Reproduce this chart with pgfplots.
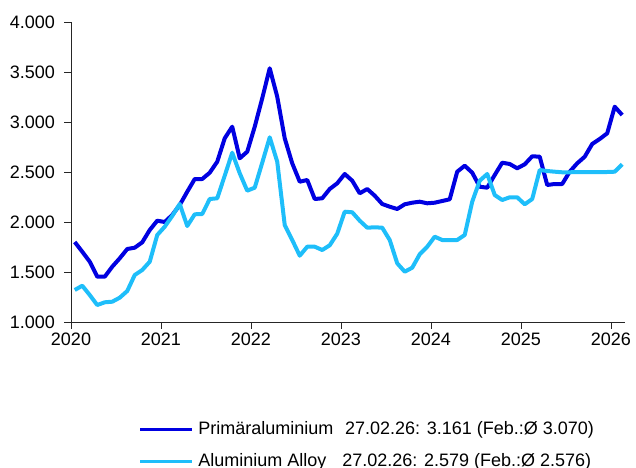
\documentclass[border=0pt]{standalone}
\usepackage{fontspec}
\setmainfont{Liberation Sans}
\usepackage{pgfplots}
\usepackage{pgfplotstable}
\pgfplotsset{compat=1.18}
\definecolor{prim}{RGB}{0,0,225}
\definecolor{alloy}{RGB}{30,190,250}

% monthly values, m = months since Jan 2020
\pgfplotstableread{
m prim alloy
0 1800 1320
1 1703 1363
2 1603 1270
3 1453 1170
4 1453 1197
5 1553 1203
6 1637 1243
7 1730 1310
8 1743 1470
9 1797 1520
10 1920 1603
11 2013 1870
12 2000 1953
13 2070 2060
14 2170 2180
15 2303 1960
16 2430 2077
17 2430 2080
18 2493 2230
19 2603 2237
20 2837 2463
21 2953 2693
22 2637 2487
23 2703 2313
24 2953 2343
25 3237 2593
26 3537 2847
27 3253 2603
28 2837 1970
29 2587 1820
30 2403 1663
31 2420 1753
32 2230 1753
33 2237 1720
34 2330 1767
35 2387 1883
36 2480 2103
37 2413 2097
38 2287 2013
39 2330 1943
40 2263 1947
41 2180 1943
42 2153 1820
43 2130 1587
44 2177 1503
45 2193 1543
46 2203 1677
47 2187 1753
48 2193 1853
49 2210 1820
50 2227 1820
51 2503 1820
52 2563 1870
53 2493 2203
54 2353 2413
55 2343 2480
56 2470 2270
57 2593 2220
58 2580 2247
59 2537 2247
60 2577 2177
61 2657 2230
62 2653 2520
63 2370 2510
64 2380 2503
65 2380 2497
66 2503 2497
67 2587 2500
68 2653 2500
69 2780 2500
70 2830 2500
71 2887 2500
72 3153 2503
73 3070 2577
}\alu

\begin{document}
\begin{tikzpicture}
\begin{axis}[
    scale only axis,
    width=415.5pt, height=225pt,
    xmin=2020, xmax=2026.156,
    ymin=1000, ymax=4000,
    axis lines=left,
    axis line style={-, black!85, line width=0.6pt},
    xtick={2020,...,2026},
    ytick={1000,1500,...,4000},
    tick align=outside,
    tick style={black!85, line width=0.6pt},
    major tick length=5pt,
    tick label style={font=\fontsize{13.5}{15}\selectfont},
    /pgf/number format/assume math mode=true,
    xticklabel style={/pgf/number format/1000 sep={}},
    yticklabel style={xshift=-3.5pt, /pgf/number format/.cd, fixed, 1000 sep={.}},
    legend cell align=left,
    legend style={
        at={(rel axis cs:0,0)}, anchor=north west,
        xshift=50.5pt, yshift=-74pt,
        draw=none, fill=none, inner sep=0pt,
        font=\fontsize{13.5}{15}\selectfont,
        row sep=11pt,
        nodes={inner sep=0pt, text height=10pt, text depth=3pt},
    },
    legend image code/.code={\draw[#1, line width=2.4pt] (0pt,0pt) -- (39pt,0pt);},
    every axis plot/.append style={line width=3pt, line join=round},
]
\addplot[prim] table[x expr=2020+(\thisrow{m}+0.5)/12, y=prim] {\alu};
\addlegendentry{\hspace{3.5pt}\makebox[110pt][l]{Primäraluminium}27.02.26: 3.161 (Feb.:Ø 3.070)}
\addplot[alloy] table[x expr=2020+(\thisrow{m}+0.5)/12, y=alloy] {\alu};
\addlegendentry{\hspace{3.5pt}\makebox[108pt][l]{Aluminium Alloy}27.02.26: 2.579 (Feb.:Ø 2.576)}
\coordinate (bl) at (rel axis cs:0,0);
\end{axis}
\pgfresetboundingbox
\path[use as bounding box] ([shift={(-53.25pt,-109.5pt)}]bl) rectangle ([shift={(423.75pt,241.5pt)}]bl);
\end{tikzpicture}
\end{document}
